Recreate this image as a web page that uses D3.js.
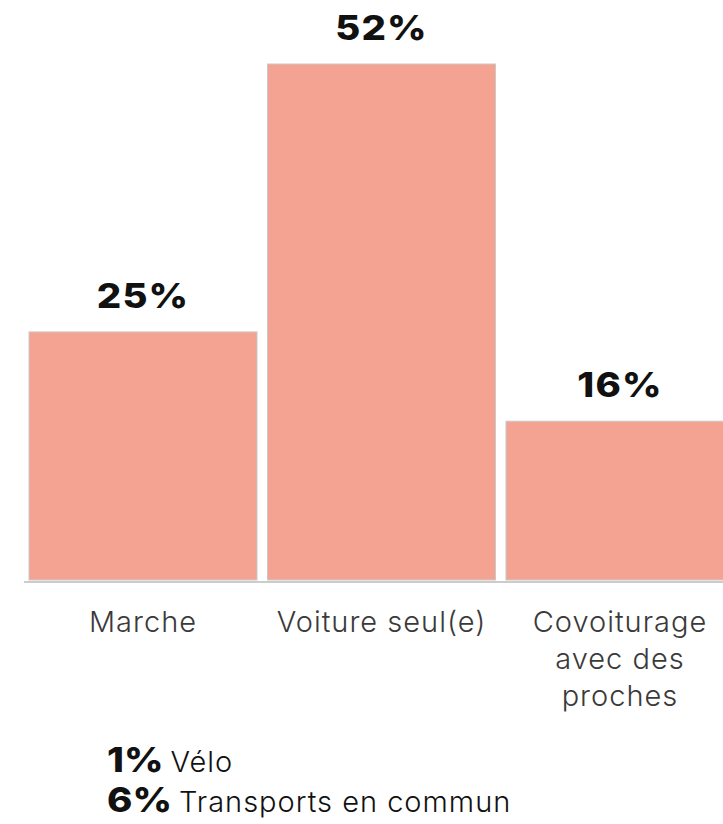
<!DOCTYPE html>
<html>
<head>
<meta charset="utf-8">
<script src="https://cdn.jsdelivr.net/npm/d3@7"></script>
<style>
  html, body { margin: 0; padding: 0; background: #fff; }
  svg { display: block; }
</style>
</head>
<body>
<svg id="chart" width="723" height="824"></svg>
<script>
const categories = ["Marche", "Voiture seul(e)", "Covoiturage avec des proches"];
const categoryLines = [["Marche"], ["Voiture seul(e)"], ["Covoiturage", "avec des", "proches"]];
const values = [25, 52, 16];
const otherValues = [1, 6];
const otherLabels = ["Vélo", "Transports en commun"];

const svg = d3.select("#chart");
const baseline = 580;
const boldScale = 1.13;

const x = d3.scaleBand()
  .domain(categories)
  .range([29, 734])
  .paddingInner(0.044)
  .paddingOuter(0);

const y = d3.scaleLinear()
  .domain([0, 52])
  .range([baseline, 64]);

const boldFont = "Inter, 'DejaVu Sans', sans-serif";
const lightFont = "Inter, sans-serif";

// bars
svg.append("g").selectAll("rect")
  .data(values)
  .join("rect")
  .attr("x", (d, i) => x(categories[i]))
  .attr("y", d => y(d))
  .attr("width", x.bandwidth())
  .attr("height", d => baseline - y(d))
  .attr("fill", "#f4a393")
  .attr("stroke", "#c9c9c9")
  .attr("stroke-width", 1);

// baseline axis
const xAxis = d3.axisBottom(x).tickSize(0).tickFormat("");
const axisG = svg.append("g")
  .attr("transform", `translate(0,${baseline + 2})`)
  .call(xAxis);
axisG.select(".domain").remove();
axisG.append("line")
  .attr("x1", 24).attr("x2", 723)
  .attr("stroke", "#cccccc").attr("stroke-width", 2);

// category labels
const catG = svg.append("g");
categoryLines.forEach((lines, i) => {
  const cx = x(categories[i]) + x.bandwidth() / 2;
  const t = catG.append("text")
    .attr("x", cx)
    .attr("y", 632)
    .attr("text-anchor", "middle")
    .attr("font-family", lightFont)
    .attr("font-weight", 300)
    .attr("font-size", 29)
    .attr("letter-spacing", 1)
    .attr("fill", "#3a3a3a");
  lines.forEach((l, j) => {
    t.append("tspan")
      .attr("x", cx)
      .attr("dy", j === 0 ? 0 : 37)
      .text(l);
  });
});

// value labels
svg.append("g").selectAll("text")
  .data(values)
  .join("text")
  .attr("transform", (d, i) => `translate(${x(categories[i]) + x.bandwidth() / 2},${y(d) - 24}) scale(${boldScale},1)`)
  .attr("text-anchor", "middle")
  .attr("font-family", boldFont)
  .attr("font-weight", 800)
  .attr("font-size", 34)
  .attr("letter-spacing", 1)
  .attr("fill", "#111")
  .text(d => d + "%");

// other modes
const other = svg.append("g");
otherValues.forEach((v, i) => {
  const by = 772 + i * 40;
  const b = other.append("text")
    .attr("transform", `translate(107,${by}) scale(${boldScale},1)`)
    .attr("font-family", boldFont)
    .attr("font-weight", 800)
    .attr("font-size", 34)
    .attr("fill", "#111")
    .text(v + "%");
  const w = b.node().getComputedTextLength() * boldScale;
  other.append("text")
    .attr("x", 107 + w + 7)
    .attr("y", by)
    .attr("font-family", lightFont)
    .attr("font-weight", 300)
    .attr("font-size", 29)
    .attr("letter-spacing", 1)
    .attr("fill", "#111")
    .text(otherLabels[i]);
});
</script>
</body>
</html>
